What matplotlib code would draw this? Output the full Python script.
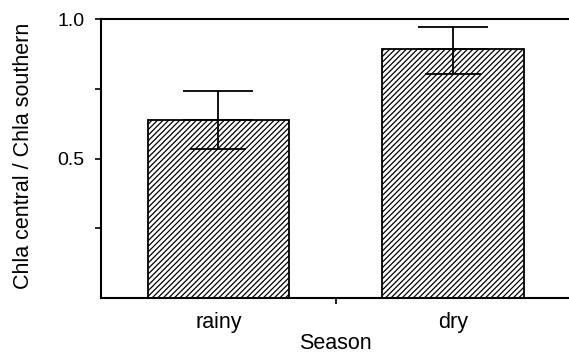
import matplotlib
matplotlib.use("Agg")
import matplotlib.pyplot as plt

plt.rcParams['font.family'] = ['Liberation Sans', 'DejaVu Sans']
plt.rcParams['hatch.linewidth'] = 0.9

seasons = ["rainy", "dry"]
ratio = [0.638, 0.892]
err_upper = [0.742, 0.971]
err_lower = [0.534, 0.803]
yticks = [0.25, 0.5, 0.75, 1.0]
ytick_labels = ["", "0.5", "", "1.0"]

fig = plt.figure(figsize=(5.69, 3.54), dpi=100)
ax = fig.add_axes([101/569, 1-298/354, 1.003-101/569, (298-19)/354])

x = list(range(len(seasons)))
ax.bar(x, ratio, width=0.604, color='white', edgecolor='black', hatch='//////', linewidth=1.3, zorder=2)

up = [u - r for u, r in zip(err_upper, ratio)]
lo = [r - l for r, l in zip(ratio, err_lower)]
zeros = [0]*len(x)
ax.errorbar(x, ratio, yerr=[zeros, up], fmt='none', ecolor='black', elinewidth=1.3,
            capsize=25.5, capthick=1.3, zorder=3)
ax.errorbar(x, ratio, yerr=[lo, zeros], fmt='none', ecolor='black', elinewidth=1.3,
            capsize=20.5, capthick=1.3, zorder=3)

ax.set_xlim(-0.5, 1.5)
ax.set_ylim(0, 1.0)
ax.set_yticks(yticks)
ax.set_yticklabels(ytick_labels, fontsize=14)
ax.set_xticks([0.5])
ax.set_xticklabels([""])
ax.set_xticks(x, minor=True)
ax.set_xticklabels(seasons, minor=True, fontsize=15.5)
ax.tick_params(axis='x', which='minor', length=0, pad=10)
ax.tick_params(axis='x', which='major', length=4, width=1.2, direction='out')
ax.tick_params(axis='y', length=4, width=1.2, direction='out', pad=8)

for s in ['left', 'bottom', 'top']:
    ax.spines[s].set_linewidth(1.5)
ax.spines['right'].set_visible(False)

ax.set_xlabel("Season", fontsize=15.5, labelpad=0)
ax.set_ylabel("Chla central / Chla southern", fontsize=15.5)
ax.yaxis.set_label_coords(-0.142, 0.51)

fig.savefig("out.png", dpi=100)
